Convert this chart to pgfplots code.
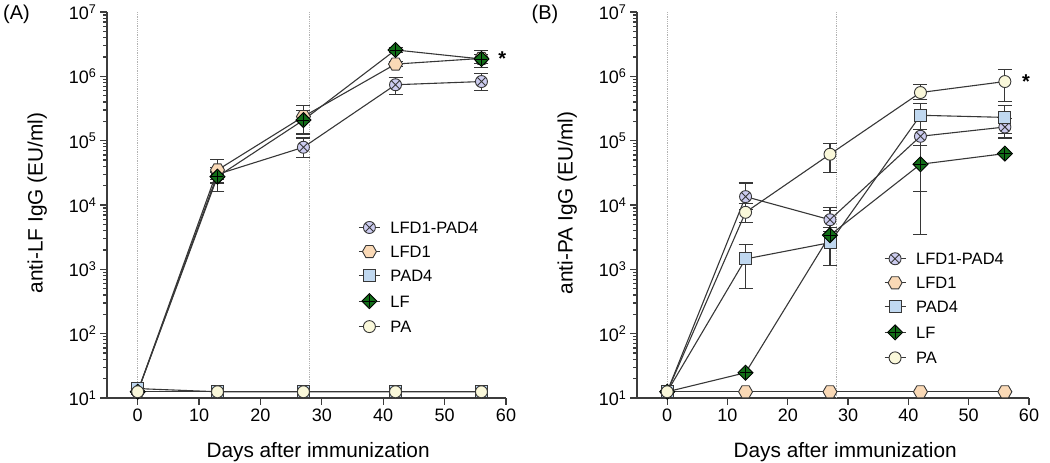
\documentclass[border=0pt]{standalone}
\usepackage{fontspec}
\setmainfont{Liberation Sans}
\usepackage{pgfplots}
\pgfplotsset{compat=1.18}

\definecolor{cLP}{RGB}{204,204,240}
\definecolor{cLFD}{RGB}{250,217,182}
\definecolor{cPAD}{RGB}{192,216,240}
\definecolor{cLF}{RGB}{18,110,24}
\definecolor{cPA}{RGB}{250,248,218}
\definecolor{lineC}{RGB}{55,55,55}
\definecolor{axisC}{RGB}{60,60,60}

\pgfdeclareplotmark{hexagon}{%
  \pgfpathmoveto{\pgfqpoint{\pgfplotmarksize}{0pt}}%
  \pgfpathlineto{\pgfqpoint{0.5\pgfplotmarksize}{0.866\pgfplotmarksize}}%
  \pgfpathlineto{\pgfqpoint{-0.5\pgfplotmarksize}{0.866\pgfplotmarksize}}%
  \pgfpathlineto{\pgfqpoint{-\pgfplotmarksize}{0pt}}%
  \pgfpathlineto{\pgfqpoint{-0.5\pgfplotmarksize}{-0.866\pgfplotmarksize}}%
  \pgfpathlineto{\pgfqpoint{0.5\pgfplotmarksize}{-0.866\pgfplotmarksize}}%
  \pgfpathclose\pgfusepathqfillstroke}
\pgfdeclareplotmark{diamondplus}{%
  \pgfpathmoveto{\pgfqpoint{0pt}{\pgfplotmarksize}}%
  \pgfpathlineto{\pgfqpoint{\pgfplotmarksize}{0pt}}%
  \pgfpathlineto{\pgfqpoint{0pt}{-\pgfplotmarksize}}%
  \pgfpathlineto{\pgfqpoint{-\pgfplotmarksize}{0pt}}%
  \pgfpathclose\pgfusepathqfillstroke
  \pgfpathmoveto{\pgfqpoint{0pt}{0.8\pgfplotmarksize}}%
  \pgfpathlineto{\pgfqpoint{0pt}{-0.8\pgfplotmarksize}}%
  \pgfpathmoveto{\pgfqpoint{0.8\pgfplotmarksize}{0pt}}%
  \pgfpathlineto{\pgfqpoint{-0.8\pgfplotmarksize}{0pt}}%
  \pgfusepathqstroke}

% Panel A data: x, y, error plus, error minus
\pgfplotstableread{
x y ep em
0 12.5 0 0
13 30000 8000 8000
27 79000 31000 24000
42 740000 220000 220000
56 830000 270000 230000
}\ALP
\pgfplotstableread{
x y ep em
0 12.5 0 0
13 35000 16000 10000
27 237000 113000 113000
42 1550000 150000 150000
56 1900000 300000 300000
}\ALFD
\pgfplotstableread{
x y ep em
0 14 0 0
13 12.5 0 0
27 12.5 0 0
42 12.5 0 0
56 12.5 0 0
}\APAD
\pgfplotstableread{
x y ep em
0 12.5 0 0
13 27600 5000 11600
27 209000 81000 81000
42 2570000 200000 200000
56 1860000 640000 510000
}\ALF
\pgfplotstableread{
x y ep em
0 12.5 0 0
13 12.5 0 0
27 12.5 0 0
42 12.5 0 0
56 12.5 0 0
}\APA

% Panel B data
\pgfplotstableread{
x y ep em
0 12.5 0 0
13 13500 8500 5000
27 5900 3300 2000
42 117000 30000 34000
56 163000 57000 53000
}\BLP
\pgfplotstableread{
x y ep em
0 12.5 0 0
13 12.5 0 0
27 12.5 0 0
42 12.5 0 0
56 12.5 0 0
}\BLFD
\pgfplotstableread{
x y ep em
0 12.5 0 0
13 1450 1010 950
27 2600 5700 1450
42 248000 132000 232000
56 230000 120000 100000
}\BPAD
\pgfplotstableread{
x y ep em
0 12.5 0 0
13 24.7 0 0
27 3400 1000 1000
42 43000 40000 39500
56 63000 0 0
}\BLF
\pgfplotstableread{
x y ep em
0 12.5 0 0
13 7700 3000 2300
27 61500 27500 29000
42 560000 190000 120000
56 830000 430000 420000
}\BPA

\tikzset{
  sLP/.style={line width=1.1pt, color=lineC, mark=otimes*, mark size=6pt,
    mark options={fill=cLP, draw=lineC, line width=0.9pt}},
  sLFD/.style={line width=1.1pt, color=lineC, mark=hexagon, mark size=7pt,
    mark options={fill=cLFD, draw=lineC, line width=0.9pt}},
  sPAD/.style={line width=1.1pt, color=lineC, mark=square*, mark size=6pt,
    mark options={fill=cPAD, draw=lineC, line width=0.9pt}},
  sLF/.style={line width=1.1pt, color=lineC, mark=diamondplus, mark size=7.5pt,
    mark options={fill=cLF, draw=black, line width=0.9pt}},
  sPA/.style={line width=1.1pt, color=lineC, mark=*, mark size=6pt,
    mark options={fill=cPA, draw=lineC, line width=0.9pt}},
  vdot/.style={line width=0.8pt, color=gray!60, densely dotted},
}
\pgfplotsset{
  every axis/.append style={
    scale only axis, clip=false,
    xmin=-5, xmax=60, ymin=10, ymax=10000000,
    axis x line*=bottom, axis y line*=left,
    axis line style={-, line width=1.2pt, color=axisC},
    tick style={line width=1.2pt, color=axisC},
    tick align=outside, major tick length=7pt, minor tick length=4pt,
    xtick={0,10,20,30,40,50,60},
    ytick={10,100,1000,10000,100000,1000000,10000000},
    yticklabels={10\textsuperscript{1},10\textsuperscript{2},10\textsuperscript{3},10\textsuperscript{4},10\textsuperscript{5},10\textsuperscript{6},10\textsuperscript{7}},
    /pgf/number format/assume math mode=true,
    ticklabel style={font=\fontsize{18}{21}\selectfont, text=black},
    label style={font=\fontsize{20.8}{24}\selectfont, text=black},
    legend style={draw=none, fill=none, font=\fontsize{16.5}{20}\selectfont,
      nodes={inner sep=0pt, text height=12pt, text depth=0pt},
      row sep=12pt, column sep=10pt, anchor=north west},
    legend cell align=left,
  },
}
\pgfplotsset{
  legend image code/.code={\draw[mark repeat=2,mark phase=2]
      plot coordinates {(0pt,0pt) (10.5pt,0pt) (21pt,0pt)};},
}

\begin{document}
\begin{tikzpicture}
\useasboundingbox (0,0) rectangle (1050pt,463pt);

\begin{axis}[ymode=log, at={(107pt,65pt)}, anchor=south west, width=399pt, height=386pt,
  xlabel={Days after immunization}, ylabel={anti-LF IgG (EU/ml)},
  xlabel style={at={(axis description cs:0.529,-0.14)}, anchor=center},
  ylabel style={at={(axis description cs:-0.175,0.505)}, anchor=center},
  legend style={at={(axis description cs:0.622,0.463)}}]
\addplot[vdot, forget plot] coordinates {(0,10) (0,10000000)};
\addplot[vdot, forget plot] coordinates {(28,10) (28,10000000)};
\addplot[sLP, error bars/.cd, y dir=both, y explicit, error bar style={line width=1.1pt, color=lineC}, error mark options={rotate=90, mark size=7pt, line width=1.1pt, color=lineC}] table[x=x, y=y, y error plus=ep, y error minus=em] {\ALP};
\addlegendentry{LFD1-PAD4}
\addplot[sLFD, error bars/.cd, y dir=both, y explicit, error bar style={line width=1.1pt, color=lineC}, error mark options={rotate=90, mark size=7pt, line width=1.1pt, color=lineC}] table[x=x, y=y, y error plus=ep, y error minus=em] {\ALFD};
\addlegendentry{LFD1}
\addplot[sPAD, error bars/.cd, y dir=both, y explicit, error bar style={line width=1.1pt, color=lineC}, error mark options={rotate=90, mark size=7pt, line width=1.1pt, color=lineC}] table[x=x, y=y, y error plus=ep, y error minus=em] {\APAD};
\addlegendentry{PAD4}
\addplot[sLF, error bars/.cd, y dir=both, y explicit, error bar style={line width=1.1pt, color=lineC}, error mark options={rotate=90, mark size=7pt, line width=1.1pt, color=lineC}] table[x=x, y=y, y error plus=ep, y error minus=em] {\ALF};
\addlegendentry{LF}
\addplot[sPA, error bars/.cd, y dir=both, y explicit, error bar style={line width=1.1pt, color=lineC}, error mark options={rotate=90, mark size=7pt, line width=1.1pt, color=lineC}] table[x=x, y=y, y error plus=ep, y error minus=em] {\APA};
\addlegendentry{PA}
\node[font=\fontsize{20}{24}\selectfont\bfseries] at (axis cs:59.4,1860000) {*};
\end{axis}

\begin{axis}[ymode=log, at={(637pt,65pt)}, anchor=south west, width=392pt, height=386pt,
  xlabel={Days after immunization}, ylabel={anti-PA IgG (EU/ml)},
  xlabel style={at={(axis description cs:0.531,-0.14)}, anchor=center},
  ylabel style={at={(axis description cs:-0.178,0.505)}, anchor=center},
  legend style={at={(axis description cs:0.622,0.382)}}]
\addplot[vdot, forget plot] coordinates {(0,10) (0,10000000)};
\addplot[vdot, forget plot] coordinates {(28,10) (28,10000000)};
\addplot[sLP, error bars/.cd, y dir=both, y explicit, error bar style={line width=1.1pt, color=lineC}, error mark options={rotate=90, mark size=7pt, line width=1.1pt, color=lineC}] table[x=x, y=y, y error plus=ep, y error minus=em] {\BLP};
\addlegendentry{LFD1-PAD4}
\addplot[sLFD, error bars/.cd, y dir=both, y explicit, error bar style={line width=1.1pt, color=lineC}, error mark options={rotate=90, mark size=7pt, line width=1.1pt, color=lineC}] table[x=x, y=y, y error plus=ep, y error minus=em] {\BLFD};
\addlegendentry{LFD1}
\addplot[sPAD, error bars/.cd, y dir=both, y explicit, error bar style={line width=1.1pt, color=lineC}, error mark options={rotate=90, mark size=7pt, line width=1.1pt, color=lineC}] table[x=x, y=y, y error plus=ep, y error minus=em] {\BPAD};
\addlegendentry{PAD4}
\addplot[sLF, error bars/.cd, y dir=both, y explicit, error bar style={line width=1.1pt, color=lineC}, error mark options={rotate=90, mark size=7pt, line width=1.1pt, color=lineC}] table[x=x, y=y, y error plus=ep, y error minus=em] {\BLF};
\addlegendentry{LF}
\addplot[sPA, error bars/.cd, y dir=both, y explicit, error bar style={line width=1.1pt, color=lineC}, error mark options={rotate=90, mark size=7pt, line width=1.1pt, color=lineC}] table[x=x, y=y, y error plus=ep, y error minus=em] {\BPA};
\addlegendentry{PA}
\node[font=\fontsize{20}{24}\selectfont\bfseries] at (axis cs:59.5,820000) {*};
\end{axis}

\node[font=\fontsize{20}{24}\selectfont, inner sep=0pt] at (16.5pt,449pt) {(A)};
\node[font=\fontsize{20}{24}\selectfont, inner sep=0pt] at (545pt,449pt) {(B)};
\end{tikzpicture}
\end{document}
